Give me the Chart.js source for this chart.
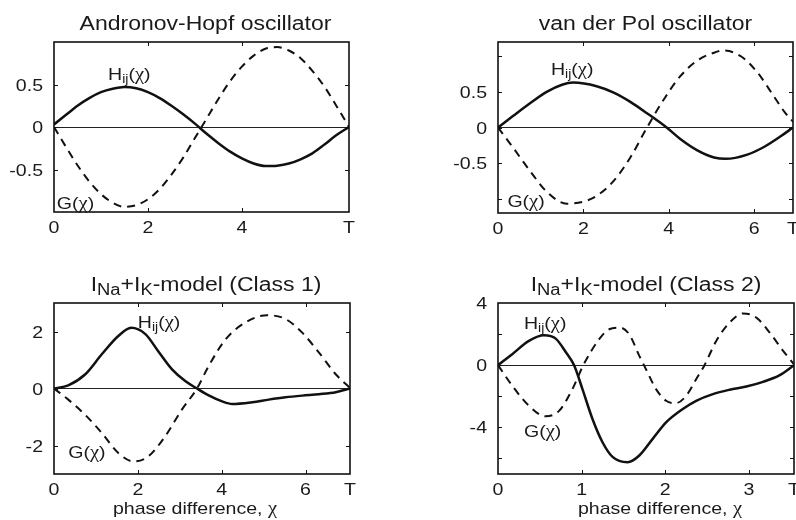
<!DOCTYPE html>
<html><head><meta charset="utf-8">
<script src="https://cdn.jsdelivr.net/npm/chart.js@4.4.0/dist/chart.umd.min.js"></script>
<style>
html,body{margin:0;padding:0;background:#fff;}
#wrap{position:relative;width:796px;height:520px;overflow:hidden;background:#fff;}
canvas{position:absolute;}
</style></head><body>
<div id="wrap">
<canvas id="c1" width="398" height="260" style="left:0;top:0"></canvas>
<canvas id="c2" width="398" height="260" style="left:398px;top:0"></canvas>
<canvas id="c3" width="398" height="260" style="left:0;top:260px"></canvas>
<canvas id="c4" width="398" height="260" style="left:398px;top:260px"></canvas>
</div>
<script>
// ---------- DATA ----------
// Andronov-Hopf oscillator
const ahPeriod = 6.28;
const ahX = [0,0.25,0.5,0.75,1,1.25,1.5,1.75,2,2.25,2.5,2.75,3,3.25,3.5,3.75,4,4.25,4.5,4.75,5,5.25,5.5,5.75,6,6.28];
const ahH = [0.03,0.14,0.25,0.34,0.41,0.45,0.47,0.455,0.41,0.34,0.25,0.15,0.04,-0.08,-0.19,-0.29,-0.37,-0.43,-0.46,-0.455,-0.43,-0.38,-0.31,-0.21,-0.10,0.0];
const ahG = [0,-0.23,-0.45,-0.64,-0.79,-0.89,-0.94,-0.92,-0.85,-0.73,-0.56,-0.36,-0.13,0.10,0.33,0.54,0.71,0.84,0.92,0.94,0.90,0.81,0.66,0.48,0.26,0];
const ahXTicks = [0,2,4,6.28];
const ahYTicks = [-1,-0.5,0,0.5,1];
const ahYLabels = [-0.5,0,0.5];

// van der Pol oscillator
const vdpPeriod = 6.91;
const vdpHX = [0,0.35,0.75,1.14,1.5,1.76,2.31,2.71,3.1,3.49,3.95,4.27,4.67,5.06,5.33,5.84,6.24,6.63,6.91];
const vdpH  = [0,0.16,0.34,0.50,0.60,0.63,0.58,0.49,0.36,0.20,0,-0.16,-0.32,-0.42,-0.44,-0.38,-0.27,-0.12,0];
const vdpGX = [0,0.35,0.75,1.14,1.61,2.0,2.31,2.71,3.1,3.49,3.88,4.27,4.67,5.06,5.28,5.69,6.08,6.47,6.71,6.91];
const vdpG  = [0,-0.28,-0.61,-0.9,-1.07,-1.04,-0.96,-0.75,-0.42,0,0.39,0.72,0.94,1.05,1.08,1.0,0.77,0.43,0.22,0.08];
const vdpXTicks = [0,2,4,6,6.91];
const vdpYTicks = [-1,-0.5,0,0.5,1];
const vdpYLabels = [-0.5,0,0.5];

// INa+IK-model (Class 1)
const c1Period = 7.06;
const c1HX = [0,0.34,0.74,1.14,1.54,1.84,2.18,2.49,2.81,3.13,3.41,3.69,4.01,4.25,4.73,5.12,5.52,5.92,6.32,6.72,7.06];
const c1H  = [0,0.11,0.49,1.2,1.85,2.13,1.91,1.3,0.68,0.26,0,-0.24,-0.45,-0.54,-0.48,-0.39,-0.31,-0.25,-0.2,-0.13,0];
const c1GX = [0,0.34,0.74,1.14,1.54,1.9,2.25,2.65,3.05,3.41,3.69,4.09,4.57,5.08,5.52,5.92,6.32,6.72,7.06];
const c1G  = [0,-0.39,-0.92,-1.56,-2.27,-2.56,-2.38,-1.68,-0.74,0,0.79,1.72,2.32,2.57,2.44,1.96,1.26,0.5,0.02];
const c1XTicks = [0,2,4,6,7.06];
const c1YTicks = [-2,0,2];
const c1YLabels = [-2,0,2];

// INa+IK-model (Class 2)
const c2Period = 3.54;
const c2HX = [0,0.17,0.37,0.55,0.69,0.81,0.91,1.01,1.13,1.25,1.37,1.55,1.69,1.85,2.01,2.21,2.37,2.57,2.77,2.97,3.17,3.37,3.54];
const c2H  = [0,0.71,1.56,1.92,1.71,0.85,0,-1.54,-3.46,-4.96,-5.9,-6.24,-5.81,-4.74,-3.68,-2.82,-2.29,-1.86,-1.58,-1.37,-1.07,-0.64,0];
const c2GX = [0,0.17,0.37,0.57,0.73,0.89,1.02,1.21,1.33,1.46,1.57,1.69,1.77,1.89,2.01,2.13,2.25,2.37,2.47,2.61,2.77,2.93,3.09,3.25,3.41,3.54];
const c2G  = [0,-1.32,-2.61,-3.29,-2.94,-1.54,0,1.67,2.31,2.42,1.98,0.6,-0.26,-1.54,-2.29,-2.44,-1.97,-0.9,0,1.56,2.74,3.33,3.06,2.09,0.92,0.06];
const c2XTicks = [0,1,2,3,3.54];
const c2YTicks = [-6,-4,-2,0,2,4];
const c2YLabels = [-4,0,4];

// label anchors (data coordinates: left x, baseline y)
const ahLabelH = [1.15, 0.555];  const ahLabelG = [0.06, -0.96];
const vdpLabelH = [1.24, 0.73];  const vdpLabelG = [0.22, -1.12];
const c1LabelH = [2.0, 2.14];    const c1LabelG = [0.34, -2.45];
const c2LabelH = [0.31, 2.35];   const c2LabelG = [0.31, -4.63];

// ---------- STYLE / RENDER ----------
const FONT = '"Liberation Sans", Arial, Helvetica, sans-serif';
const GREEK = '"Liberation Serif", "DejaVu Serif", serif';
const TXT = '#1a1a1a';
const SX = 1.15;

function rich(ctx, parts, x, y, align, size){
  const fonts = parts.map(p => (size*(p[1]||1)).toFixed(2)+'px '+(p[3]||FONT));
  let w = 0;
  parts.forEach((p,i)=>{ctx.font=fonts[i]; w+=ctx.measureText(p[0]).width;});
  const x0 = align==='center' ? x-w*SX/2 : align==='right' ? x-w*SX : x;
  ctx.save();
  ctx.translate(x0,y); ctx.scale(SX,1);
  ctx.textAlign='left'; ctx.textBaseline='alphabetic'; ctx.fillStyle=TXT;
  let cx=0;
  parts.forEach((p,i)=>{ctx.font=fonts[i]; ctx.fillText(p[0],cx,p[2]||0); cx+=ctx.measureText(p[0]).width;});
  ctx.restore();
}
const HLBL = [['H',1,0],['ij',0.72,3],['(',1,0],['\u03C7',1.05,0,GREEK],[')',1,0]];
const GLBL = [['G',1,0],['(',1,0],['\u03C7',1.05,0,GREEK],[')',1,0]];
const XTITLE = [['phase difference, ',1,0],['\u03C7',1.05,0,GREEK]];

function makeChart(id, cfg){
  const decor = {
    id:'decor'+id,
    afterDraw(chart){
      const ctx=chart.ctx, a=chart.chartArea, xs=chart.scales.x, ys=chart.scales.y;
      ctx.save();
      ctx.strokeStyle='#111'; ctx.lineWidth=1;
      const tl=4;
      xs.ticks.forEach(t=>{
        if(t.value<=xs.min+1e-9||t.value>=xs.max-1e-9) return;
        const p=Math.round(xs.getPixelForValue(t.value))+0.5;
        ctx.beginPath(); ctx.moveTo(p,a.bottom); ctx.lineTo(p,a.bottom-tl);
        ctx.moveTo(p,a.top); ctx.lineTo(p,a.top+tl); ctx.stroke();
      });
      ys.ticks.forEach(t=>{
        if(t.value<=ys.min+1e-9||t.value>=ys.max-1e-9) return;
        const p=Math.round(ys.getPixelForValue(t.value))+0.5;
        ctx.beginPath(); ctx.moveTo(a.left,p); ctx.lineTo(a.left+tl,p);
        ctx.moveTo(a.right,p); ctx.lineTo(a.right-tl,p); ctx.stroke();
      });
      ctx.lineWidth=1.6; ctx.strokeStyle='#111';
      ctx.strokeRect(a.left,a.top,a.right-a.left,a.bottom-a.top);
      xs.ticks.forEach(t=>{
        const lab = Math.abs(t.value-cfg.period)<1e-9 ? 'T' : String(t.value);
        rich(ctx,[[lab,1,0]],xs.getPixelForValue(t.value),a.bottom+21,'center',17);
      });
      ys.ticks.forEach(t=>{
        if(!cfg.yLabels.includes(t.value)) return;
        rich(ctx,[[String(t.value),1,0]],a.left-11,ys.getPixelForValue(t.value)+6.1,'right',17);
      });
      rich(ctx,cfg.title,(a.left+a.right)/2+cfg.titleDx,a.top-12,'center',20);
      rich(ctx,HLBL,xs.getPixelForValue(cfg.labH[0]),ys.getPixelForValue(cfg.labH[1]),'left',17);
      rich(ctx,GLBL,xs.getPixelForValue(cfg.labG[0]),ys.getPixelForValue(cfg.labG[1]),'left',17);
      if(cfg.xTitle) rich(ctx,XTITLE,(a.left+a.right)/2+cfg.xTitleDx,a.bottom+40,'center',17);
      ctx.restore();
    }
  };
  const pts=(xa,ya)=>xa.map((x,i)=>({x:x,y:ya[i]}));
  return new Chart(document.getElementById(id),{
    type:'line',
    data:{datasets:[
      {label:'H',data:pts(cfg.hx,cfg.h),borderColor:'#111',borderWidth:2.5,pointRadius:0,cubicInterpolationMode:'monotone',fill:false},
      {label:'G',data:pts(cfg.gx,cfg.g),borderColor:'#111',borderWidth:2,borderDash:[8,6],pointRadius:0,cubicInterpolationMode:'monotone',fill:false}
    ]},
    options:{
      responsive:false, animation:false, devicePixelRatio:1,
      layout:{autoPadding:false,padding:{left:0,right:cfg.padR,top:cfg.padT,bottom:0}},
      plugins:{legend:{display:false},tooltip:{enabled:false},title:{display:false}},
      scales:{
        x:{type:'linear',min:0,max:cfg.period,
           afterBuildTicks:s=>{s.ticks=cfg.xTicks.map(v=>({value:v}));},
           ticks:{display:false},grid:{display:false,drawTicks:false},border:{display:false},
           afterFit:s=>{s.height=cfg.xh;s.paddingLeft=0;s.paddingRight=0;}},
        y:{type:'linear',min:cfg.yMin,max:cfg.yMax,
           afterBuildTicks:s=>{s.ticks=cfg.yTicks.map(v=>({value:v}));},
           ticks:{display:false},
           grid:{drawTicks:false,lineWidth:1,color:c=>(c.tick&&c.tick.value===0)?'#222':'rgba(0,0,0,0)'},
           border:{display:false},
           afterFit:s=>{s.width=cfg.yw;s.paddingTop=0;s.paddingBottom=0;}}
      }
    },
    plugins:[decor]
  });
}

makeChart('c1',{period:ahPeriod,hx:ahX,h:ahH,gx:ahX,g:ahG,xTicks:ahXTicks,yTicks:ahYTicks,yLabels:ahYLabels,
  yMin:-1,yMax:1,yw:54,padR:49,padT:42,xh:48,titleDx:4,labH:ahLabelH,labG:ahLabelG,
  title:[['Andronov-Hopf oscillator',1,0]]});
makeChart('c2',{period:vdpPeriod,hx:vdpHX,h:vdpH,gx:vdpGX,g:vdpG,xTicks:vdpXTicks,yTicks:vdpYTicks,yLabels:vdpYLabels,
  yMin:-1.2,yMax:1.2,yw:100,padR:3,padT:42,xh:47,titleDx:0,labH:vdpLabelH,labG:vdpLabelG,
  title:[['van der Pol oscillator',1,0]]});
makeChart('c3',{period:c1Period,hx:c1HX,h:c1H,gx:c1GX,g:c1G,xTicks:c1XTicks,yTicks:c1YTicks,yLabels:c1YLabels,
  yMin:-3,yMax:3,yw:54,padR:48,padT:43,xh:46,titleDx:4,xTitleDx:-7,labH:c1LabelH,labG:c1LabelG,xTitle:true,
  title:[['I',1,0],['Na',0.8,4],['+I',1,0],['K',0.8,4],['-model (Class 1)',1,0]]});
makeChart('c4',{period:c2Period,hx:c2HX,h:c2H,gx:c2GX,g:c2G,xTicks:c2XTicks,yTicks:c2YTicks,yLabels:c2YLabels,
  yMin:-7,yMax:4,yw:100,padR:2,padT:43,xh:46,titleDx:0,xTitleDx:14,labH:c2LabelH,labG:c2LabelG,xTitle:true,
  title:[['I',1,0],['Na',0.8,4],['+I',1,0],['K',0.8,4],['-model (Class 2)',1,0]]});
</script>
</body></html>
